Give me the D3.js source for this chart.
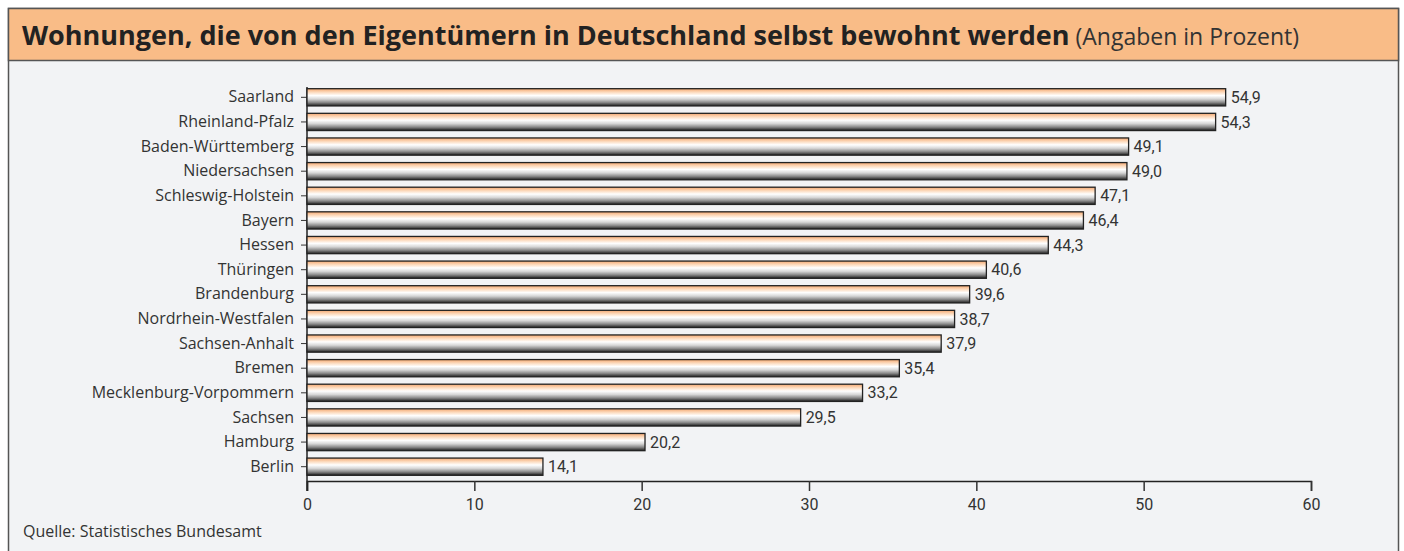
<!DOCTYPE html>
<html>
<head>
<meta charset="utf-8">
<script src="https://cdn.jsdelivr.net/npm/d3@7"></script>
<style>
  body { margin: 0; background: #fff; }
  svg { display: block; }
</style>
</head>
<body>
<div class="graph"></div>
<script>
let laender = [
  "Saarland", "Rheinland-Pfalz", "Baden-Württemberg", "Niedersachsen",
  "Schleswig-Holstein", "Bayern", "Hessen", "Thüringen", "Brandenburg",
  "Nordrhein-Westfalen", "Sachsen-Anhalt", "Bremen",
  "Mecklenburg-Vorpommern", "Sachsen", "Hamburg", "Berlin"
];
let quote = [54.9, 54.3, 49.1, 49.0, 47.1, 46.4, 44.3, 40.6, 39.6, 38.7, 37.9, 35.4, 33.2, 29.5, 20.2, 14.1];
let xTicks = [0, 10, 20, 30, 40, 50, 60];

let w = 1404;
let h = 551;
let font = "'Open Sans', sans-serif";
let numFont = "Roboto, sans-serif";

let svg = d3
  .select(".graph")
  .append("svg")
  .attr("width", w)
  .attr("height", h);

// bar gradient: peach on top, white, then grey to black
let grad = svg.append("defs")
  .append("linearGradient")
  .attr("id", "barGrad")
  .attr("x1", 0).attr("y1", 0)
  .attr("x2", 0).attr("y2", 1);
[
  [0, "#f4a871"], [0.2, "#fcd9bb"], [0.4, "#ffffff"],
  [0.6, "#d6d6d6"], [0.8, "#888888"], [1, "#1e1e1e"]
].forEach(function (s) {
  grad.append("stop").attr("offset", s[0]).attr("stop-color", s[1]);
});

// frame
svg.append("rect")
  .attr("x", 8.5).attr("y", 8.5)
  .attr("width", 1390).attr("height", 560)
  .style("fill", "#f2f3f5")
  .style("stroke", "#555")
  .style("stroke-width", 1.5);

svg.append("rect")
  .attr("x", 8.5).attr("y", 8.5)
  .attr("width", 1390).attr("height", 52)
  .style("fill", "#f9bc87")
  .style("stroke", "#555")
  .style("stroke-width", 1.5);

let title = svg.append("text")
  .attr("x", 22)
  .attr("y", 45)
  .style("font-family", font)
  .style("fill", "#222");
title.append("tspan")
  .style("font-weight", "bold")
  .style("font-size", "27px")
  .text("Wohnungen, die von den Eigentümern in Deutschland selbst bewohnt werden");
title.append("tspan")
  .style("font-size", "23px")
  .style("fill", "#333")
  .text(" (Angaben in Prozent)");

let xScale = d3.scaleLinear()
  .domain([0, 60])
  .range([307, 1311]);

let yScale = d3.scaleBand()
  .domain(laender)
  .range([85, 479])
  .paddingInner(0.3)
  .paddingOuter(0.15);

let xAxis = d3.axisBottom(xScale)
  .tickValues(xTicks)
  .tickSize(10)
  .tickFormat(d3.format("d"));

let gx = svg.append("g")
  .attr("transform", "translate(0, 481)")
  .call(xAxis);
gx.select(".domain").attr("stroke", "#222").attr("stroke-width", 1.5);
gx.selectAll(".tick line").attr("stroke", "#333").attr("stroke-width", 1.5);
gx.selectAll(".tick text")
  .attr("y", 18)
  .style("font-family", numFont)
  .style("font-size", "16px")
  .style("fill", "#333");

let yAxis = d3.axisLeft(yScale).tickSize(6).tickSizeOuter(0);
let gy = svg.append("g")
  .attr("transform", "translate(307, 0)")
  .call(yAxis);
gy.select(".domain")
  .attr("d", "M0,87V491")
  .attr("stroke", "#222")
  .attr("stroke-width", 1.5);
gy.selectAll(".tick line").attr("stroke", "#333");
gy.selectAll(".tick text")
  .attr("x", -13)
  .style("font-family", font)
  .style("font-size", "16px")
  .style("fill", "#333");

svg.selectAll("rect.bar")
  .data(quote)
  .enter()
  .append("rect")
  .attr("class", "bar")
  .attr("x", xScale(0))
  .attr("y", function (d, i) { return yScale(laender[i]); })
  .attr("width", function (d) { return xScale(d) - xScale(0); })
  .attr("height", yScale.bandwidth())
  .style("fill", "url(#barGrad)")
  .style("stroke", "#222")
  .style("stroke-width", 1.3);

svg.selectAll("text.val")
  .data(quote)
  .enter()
  .append("text")
  .attr("class", "val")
  .attr("x", function (d) { return xScale(d) + 5; })
  .attr("y", function (d, i) { return yScale(laender[i]) + yScale.bandwidth() / 2; })
  .attr("dy", "0.35em")
  .style("font-family", numFont)
  .style("font-size", "16px")
  .style("fill", "#333")
  .text(function (d) { return d3.format(".1f")(d).replace(".", ","); });

svg.append("text")
  .attr("x", 23)
  .attr("y", 537)
  .style("font-family", font)
  .style("font-size", "16px")
  .style("fill", "#333")
  .text("Quelle: Statistisches Bundesamt");
</script>
</body>
</html>
